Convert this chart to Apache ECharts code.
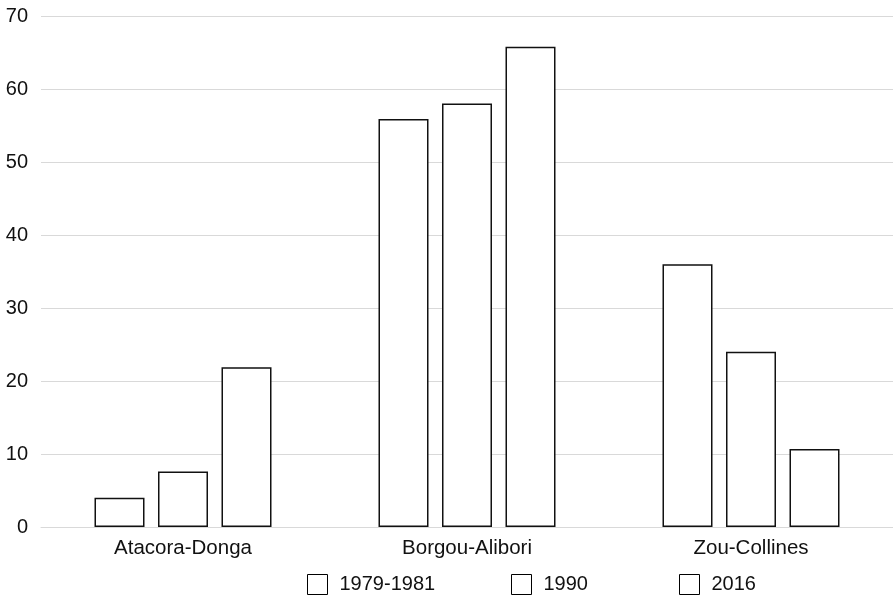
<!DOCTYPE html>
<html><head><meta charset="utf-8">
<script src="https://cdn.jsdelivr.net/npm/echarts@6/dist/echarts.min.js"></script>
<style>html,body{margin:0;padding:0;background:#fff}#c{width:893px;height:599px}</style>
</head><body><div id="c"></div>
<script>
const categories = ['Atacora-Donga', 'Borgou-Alibori', 'Zou-Collines'];
const seriesNames = ['1979-1981', '1990', '2016'];
const v1979 = [4.0, 55.9, 36.0];
const v1990 = [7.6, 58.0, 24.0];
const v2016 = [21.9, 65.8, 10.7];
const yTicks = [0, 10, 20, 30, 40, 50, 60, 70];

const values = [v1979, v1990, v2016];
const font = 'Helvetica, "Liberation Sans", Arial, sans-serif';
const chart = echarts.init(document.getElementById('c'));
const legendLefts = [307, 511, 679];
chart.setOption({
  animation: false,
  backgroundColor: '#fff',
  grid: { left: 41, top: 16, width: 855, height: 511, containLabel: false },
  xAxis: {
    type: 'category', data: categories,
    axisLine: { show: true, lineStyle: { color: '#d9d9d9', width: 1 } },
    axisTick: { show: false },
    axisLabel: { color: '#111', fontSize: 20.5, fontFamily: font, margin: 11 }
  },
  yAxis: {
    type: 'value', min: yTicks[0], max: yTicks[yTicks.length - 1], interval: 10,
    axisLine: { show: false }, axisTick: { show: false },
    splitLine: { lineStyle: { color: '#d9d9d9', width: 1 } },
    axisLabel: { color: '#111', fontSize: 20, fontFamily: font, margin: 13 }
  },
  legend: seriesNames.map((n, i) => ({
    data: [n], left: legendLefts[i], top: 574, itemWidth: 20, itemHeight: 20,
    icon: 'rect', padding: 0,
    itemStyle: { color: '#fff', borderColor: '#000', borderWidth: 1 },
    textStyle: { color: '#111', fontSize: 20, fontFamily: font, padding: [0, 0, 0, 7] }
  })),
  series: seriesNames.map((n, i) => ({
    name: n, type: 'bar', data: values[i], barWidth: 50, barGap: '27%',
    itemStyle: { color: '#fff', borderColor: '#111', borderWidth: 1.5 }
  }))
});
</script></body></html>
